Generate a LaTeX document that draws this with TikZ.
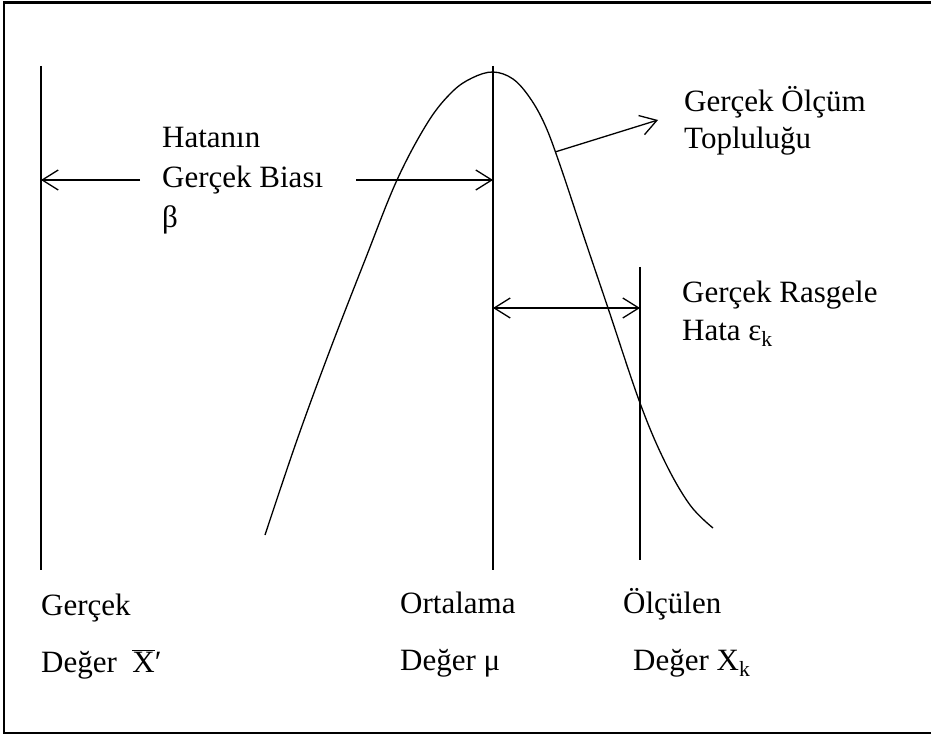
\documentclass[tikz,border=0pt]{standalone}
\usepackage{fontspec}
\setmainfont{Liberation Serif}
\usetikzlibrary{arrows.meta}
\begin{document}
\begin{tikzpicture}[x=1pt,y=-1pt,
  lbl/.style={anchor=base west, inner sep=0pt, font=\fontsize{31}{40}\selectfont},
  ln/.style={line width=1.3pt},
  tipstyle/.style={line width=1.3pt,-{Straight Barb[length=16pt,width=20pt,line width=1.3pt]}},
  twotip/.style={line width=1.3pt,{Straight Barb[length=16pt,width=20pt,line width=1.3pt]}-{Straight Barb[length=16pt,width=20pt,line width=1.3pt]}}]
\useasboundingbox (0,0) rectangle (931,735);
\fill[white] (0,0) rectangle (931,735);
% frame
\draw[line width=2.2pt] (4,2.5) rectangle (960,733);
% vertical lines
\coordinate (lt) at (41,66);  \coordinate (lb) at (41,570);
\coordinate (ct) at (493,66); \coordinate (cb) at (493,570);
\coordinate (rt) at (640,267); \coordinate (rb) at (640,560);
\draw[ln] (lt) -- (lb);
\draw[ln] (ct) -- (cb);
\draw[ln] (rt) -- (rb);
% curve
\draw[ln] plot[smooth, tension=0.6] coordinates {(265,535) (297,440) (330,350) (365,260) (397,180) (428,122) (452,92) (472,78) (493,72) (513,79) (530,98) (545,125) (560,165) (585,240) (608,308) (640,403) (665,462) (690,505) (713,528)};
% bias arrow
\coordinate (bl) at (41,180);  \coordinate (bm1) at (140,180);
\coordinate (bm2) at (356,180); \coordinate (br) at (493,180);
\draw[tipstyle] (bm1) -- (bl);
\draw[tipstyle] (bm2) -- (br);
% eps arrow
\coordinate (el) at (493,308); \coordinate (er) at (640,308);
\draw[twotip] (el) -- (er);
% pointer arrow
\coordinate (ps) at (555,152); \coordinate (pe) at (658,120);
\draw[tipstyle] (ps) -- (pe);
% texts
\node[lbl] (h1) at (162,148) {Hatanın};
\node[lbl] (h2) at (162,188) {Gerçek Biası};
\node[lbl] (h3) at (162,228) {β};
\node[lbl] (g1) at (684,112) {Gerçek Ölçüm};
\node[lbl] (g2) at (684,149) {Topluluğu};
\node[lbl] (r1) at (682,302) {Gerçek Rasgele};
\node[lbl] (r2) at (682,340) {Hata ε\textsubscript{k}};
\node[lbl] (b1) at (41,615) {Gerçek};
\node[lbl] (b2) at (41,672) {Değer\hspace{0.5em}$\overline{\mbox{X}}$′};
\node[lbl] (o1) at (400,613) {Ortalama};
\node[lbl] (o2) at (400,670) {Değer μ};
\node[lbl] (m1) at (623,613) {Ölçülen};
\node[lbl] (m2) at (633,670) {Değer X\textsubscript{k}};
\end{tikzpicture}
\end{document}
